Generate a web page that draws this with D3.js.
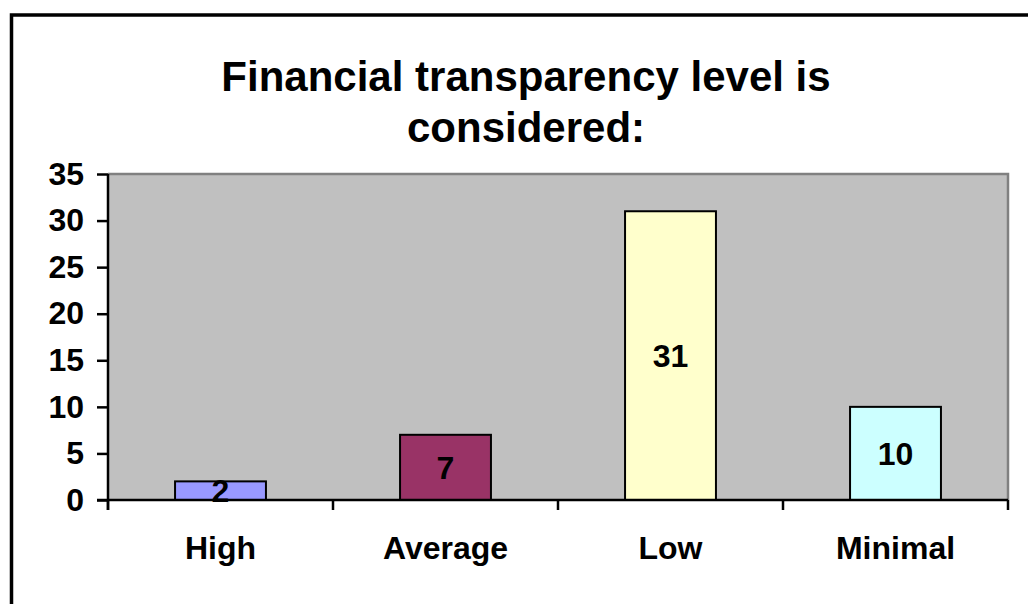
<!DOCTYPE html>
<html>
<head>
<meta charset="utf-8">
<script src="https://cdn.jsdelivr.net/npm/d3@7"></script>
<style>
  body { margin: 0; background: #fff; }
  svg { display: block; font-family: Arial, "Liberation Sans", sans-serif; font-weight: bold; }
</style>
</head>
<body>
<svg id="chart"></svg>
<script>
const WIDTH = 1028;
const HEIGHT = 604;

// Chart data.
const categories = ['High', 'Average', 'Low', 'Minimal'];
const values = [2, 7, 31, 10];
const barColors = ['#9999FF', '#993366', '#FFFFCC', '#CCFFFF'];
const yTicks = [0, 5, 10, 15, 20, 25, 30, 35];
const titleLines = ['Financial transparency level is', 'considered:'];

const plot = {left: 108, right: 1008, top: 174, bottom: 500};
const LABEL_SIZE = 32;

const svg = d3.select('#chart')
  .attr('width', WIDTH)
  .attr('height', HEIGHT);

// Outer frame, runs off the right and bottom edges like the original.
svg.append('rect')
  .attr('x', 11.5).attr('y', 15)
  .attr('width', 1060).attr('height', 640)
  .attr('fill', '#fff')
  .attr('stroke', '#000')
  .attr('stroke-width', 3.5);

// Title.
svg.append('text')
  .attr('text-anchor', 'middle')
  .attr('font-size', 42)
  .selectAll('tspan')
  .data(titleLines)
  .enter()
  .append('tspan')
  .attr('x', 526)
  .attr('y', (d, i) => 91 + i * 51)
  .text(d => d);

const x = d3.scaleBand()
  .domain(categories)
  .range([plot.left, plot.right])
  .padding(0);

const y = d3.scaleLinear()
  .domain([0, 35])
  .range([plot.bottom, plot.top]);

// Plot area background.
svg.append('rect')
  .attr('x', plot.left).attr('y', plot.top)
  .attr('width', plot.right - plot.left)
  .attr('height', plot.bottom - plot.top)
  .attr('fill', '#C0C0C0');

// Gray border on the top and right of the plot area.
svg.append('path')
  .attr('d', `M${plot.left},${plot.top}H${plot.right}V${plot.bottom}`)
  .attr('fill', 'none')
  .attr('stroke', '#808080')
  .attr('stroke-width', 2.5);

// Bars.
const barWidth = x.bandwidth() * 0.404;
svg.selectAll('rect.bar')
  .data(values)
  .enter()
  .append('rect')
  .attr('class', 'bar')
  .attr('x', (d, i) => x(categories[i]) + (x.bandwidth() - barWidth) / 2)
  .attr('y', d => y(d))
  .attr('width', barWidth)
  .attr('height', d => y(0) - y(d))
  .attr('fill', (d, i) => barColors[i])
  .attr('stroke', '#000')
  .attr('stroke-width', 2);

// Value labels in the middle of each bar.
svg.selectAll('text.value')
  .data(values)
  .enter()
  .append('text')
  .attr('class', 'value')
  .attr('x', (d, i) => x(categories[i]) + x.bandwidth() / 2)
  .attr('y', d => (y(d) + y(0)) / 2)
  .attr('dy', '0.36em')
  .attr('text-anchor', 'middle')
  .attr('font-size', LABEL_SIZE)
  .text(d => d);

// Y axis.
const yAxis = svg.append('g')
  .attr('transform', `translate(${plot.left},0)`)
  .call(d3.axisLeft(y).tickValues(yTicks).tickSize(11).tickPadding(13));
yAxis.selectAll('text')
  .attr('font-size', LABEL_SIZE)
  .attr('font-family', null)
  .attr('fill', '#000');

// X axis with ticks at the category boundaries.
const xAxis = svg.append('g')
  .attr('transform', `translate(0,${plot.bottom})`)
  .call(d3.axisBottom(x).tickSize(0).tickPadding(36));
xAxis.selectAll('text')
  .attr('font-size', LABEL_SIZE)
  .attr('font-family', null)
  .attr('fill', '#000');
xAxis.selectAll('line.bound')
  .data(categories.concat(['end']))
  .enter()
  .append('line')
  .attr('class', 'bound')
  .attr('x1', (d, i) => plot.left + i * x.step())
  .attr('x2', (d, i) => plot.left + i * x.step())
  .attr('y1', 0)
  .attr('y2', 10)
  .attr('stroke', '#000')
  .attr('stroke-width', 2.5);

svg.selectAll('.domain').remove();
svg.selectAll('g.tick line').attr('stroke-width', 2.5);

// Axis lines drawn last so they sit on top.
svg.append('line')
  .attr('x1', plot.left).attr('x2', plot.left)
  .attr('y1', plot.top).attr('y2', plot.bottom + 10)
  .attr('stroke', '#000').attr('stroke-width', 2.5);
svg.append('line')
  .attr('x1', plot.left - 11).attr('x2', plot.right)
  .attr('y1', plot.bottom).attr('y2', plot.bottom)
  .attr('stroke', '#000').attr('stroke-width', 2.5);
</script>
</body>
</html>
